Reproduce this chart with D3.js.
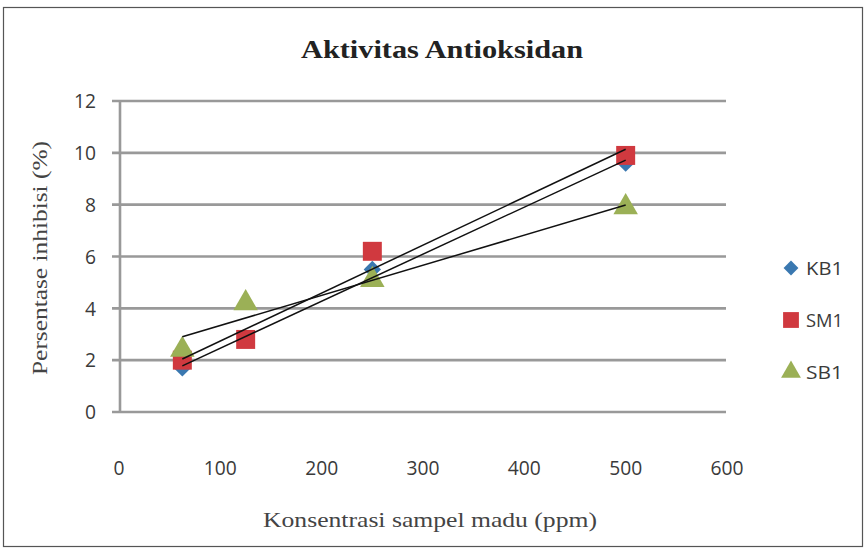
<!DOCTYPE html>
<html><head><meta charset="utf-8">
<script src="https://cdn.jsdelivr.net/npm/d3@7"></script>
<style>body{margin:0;background:#fff}</style>
</head><body>
<svg id="c" width="866" height="549"></svg>
<script>
const concentrations = [62.5, 125, 250, 500];
const seriesNames = ["KB1", "SM1", "SB1"];
const kb1 = [1.7, 2.8, 5.5, 9.6];
const sm1 = [2.0, 2.8, 6.2, 9.9];
const sb1 = [2.4, 4.2, 5.1, 7.9];
const xTicks = [0, 100, 200, 300, 400, 500, 600];
const yTicks = [0, 2, 4, 6, 8, 10, 12];
const colors = ["#3a78b0", "#d0393f", "#9bb056"];

const series = [kb1, sm1, sb1].map((v, i) => ({name: seriesNames[i], color: colors[i], values: v.map((y, j) => ({x: concentrations[j], y}))}));

const svg = d3.select("#c");
svg.append("rect").attr("x", 3.5).attr("y", 7.5).attr("width", 859).attr("height", 539)
  .attr("fill", "#fff").attr("stroke", "#555").attr("stroke-width", 1.2);

const x = d3.scaleLinear().domain([0, 600]).range([119, 727]);
const y = d3.scaleLinear().domain([0, 12]).range([412, 101]);

// gridlines
svg.append("g").selectAll("line").data(yTicks).join("line")
  .attr("x1", 112).attr("x2", 726).attr("y1", d => y(d)).attr("y2", d => y(d))
  .attr("stroke", "#999").attr("stroke-width", 2.6);
// y axis line
svg.append("line").attr("x1", 120).attr("x2", 120).attr("y1", y(12)).attr("y2", y(0))
  .attr("stroke", "#999").attr("stroke-width", 2.6);

const tickFont = "'Open Sans', sans-serif";
// y tick labels
svg.append("g").selectAll("text").data(yTicks).join("text")
  .attr("x", 96).attr("y", d => y(d)).attr("dy", "0.36em").attr("text-anchor", "end")
  .attr("font-family", tickFont).attr("font-size", 20).attr("fill", "#3a3a3a")
  .attr("textLength", d => String(d).length * 11).attr("lengthAdjust", "spacingAndGlyphs")
  .text(d => d);
// x tick labels
svg.append("g").selectAll("text").data(xTicks).join("text")
  .attr("x", d => x(d)).attr("y", 468).attr("dy", "0.36em").attr("text-anchor", "middle")
  .attr("font-family", tickFont).attr("font-size", 20).attr("fill", "#3a3a3a")
  .attr("textLength", d => String(d).length * 11).attr("lengthAdjust", "spacingAndGlyphs")
  .text(d => d);

// title
svg.append("text").attr("x", 442).attr("y", 58).attr("text-anchor", "middle")
  .attr("font-family", "'Liberation Serif', 'Times New Roman', serif").attr("font-weight", "bold")
  .attr("font-size", 25).attr("fill", "#222").attr("textLength", 282).attr("lengthAdjust", "spacingAndGlyphs")
  .text("Aktivitas Antioksidan");
// axis titles
svg.append("text").attr("x", 430).attr("y", 527).attr("text-anchor", "middle")
  .attr("font-family", "'Liberation Serif', serif").attr("font-size", 21).attr("fill", "#444")
  .attr("textLength", 334).attr("lengthAdjust", "spacingAndGlyphs")
  .text("Konsentrasi sampel madu (ppm)");
svg.append("text").attr("transform", "translate(47,258) rotate(-90)").attr("text-anchor", "middle")
  .attr("font-family", "'Liberation Serif', serif").attr("font-size", 21).attr("fill", "#444")
  .attr("textLength", 234).attr("lengthAdjust", "spacingAndGlyphs")
  .text("Persentase inhibisi (%)");

// markers (diamond = square rotated 45°)
const shapes = [d3.symbolSquare, d3.symbolSquare, d3.symbolTriangle];
const rot = [45, 0, 0];
const sizes = [150, 360, 260];
series.forEach((s, i) => {
  svg.append("g").selectAll("path").data(s.values).join("path")
    .attr("transform", d => `translate(${x(d.x)},${y(d.y)}) rotate(${rot[i]})`)
    .attr("d", d3.symbol().type(shapes[i]).size(sizes[i]))
    .attr("fill", s.color);
});

// linear trendlines
series.forEach(s => {
  const mx = d3.mean(s.values, d => d.x), my = d3.mean(s.values, d => d.y);
  const sxy = d3.sum(s.values, d => (d.x - mx) * (d.y - my));
  const sxx = d3.sum(s.values, d => (d.x - mx) ** 2);
  const b = sxy / sxx, a = my - b * mx;
  const x0 = d3.min(s.values, d => d.x), x1 = d3.max(s.values, d => d.x);
  svg.append("line").attr("x1", x(x0)).attr("y1", y(a + b * x0))
    .attr("x2", x(x1)).attr("y2", y(a + b * x1))
    .attr("stroke", "#111").attr("stroke-width", 1.5);
});

// legend
const lg = svg.append("g");
const legSizes = [110, 250, 170];
series.forEach((s, i) => {
  const ly = 268 + i * 52;
  lg.append("path").attr("transform", `translate(791,${ly}) rotate(${rot[i]})`)
    .attr("d", d3.symbol().type(shapes[i]).size(legSizes[i])).attr("fill", s.color);
  lg.append("text").attr("x", 806).attr("y", ly).attr("dy", "0.36em")
    .attr("font-family", tickFont).attr("font-size", 19).attr("fill", "#3a3a3a")
    .attr("textLength", 37).attr("lengthAdjust", "spacingAndGlyphs")
    .text(s.name);
});
</script>
</body></html>
